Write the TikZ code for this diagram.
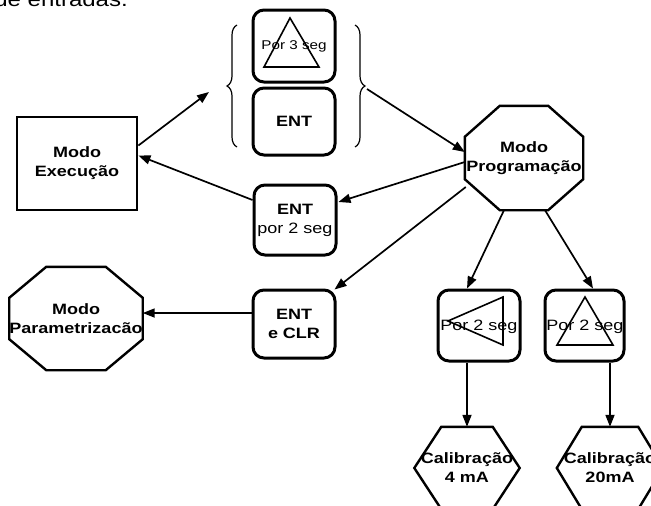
\documentclass[tikz,border=0pt]{standalone}
\usepackage{fontspec}
\usetikzlibrary{arrows.meta,calc,decorations.pathreplacing}
\newfontfamily\lsans[FakeStretch=1.2]{Liberation Sans}
\newcommand\myfB{\lsans\bfseries\fontsize{15}{19}\selectfont}
\newcommand\myfR{\lsans\mdseries\fontsize{15}{19}\selectfont}
\newcommand\myfS{\lsans\mdseries\fontsize{12.7}{15}\selectfont}
\newcommand\myfT{\lsans\mdseries\fontsize{20}{24}\selectfont}
\newcommand\myoct[3]{\draw[shpline] ($(#1.north west)+(#2,0)$) -- ($(#1.north east)+(-#2,0)$) -- ($(#1.north east)+(0,#3)$) -- ($(#1.south east)+(0,-#3)$) -- ($(#1.south east)+(-#2,0)$) -- ($(#1.south west)+(#2,0)$) -- ($(#1.south west)+(0,-#3)$) -- ($(#1.north west)+(0,#3)$) -- cycle;}
\newcommand\myhex[2]{\draw[shpline] (#1.west) -- ($(#1.north west)+(#2,0)$) -- ($(#1.north east)+(-#2,0)$) -- (#1.east) -- ($(#1.south east)+(-#2,0)$) -- ($(#1.south west)+(#2,0)$) -- cycle;}
\tikzset{
  btn/.style={draw, line width=3pt, rounded corners=11pt, inner sep=0pt, align=center, font=\myfB},
  sq/.style={draw, line width=2.8pt, inner sep=0pt, align=center, font=\myfB},
  shp/.style={inner sep=0pt, align=center, font=\myfB},
  shpline/.style={line width=2.4pt, line join=miter},
  arr/.style={line width=1.7pt, -{Triangle[length=12pt,width=9pt]}},
  tri/.style={line width=1.6pt, line join=miter},
  brc/.style={line width=1.2pt, decorate, decoration={brace, amplitude=10pt}},
}
\begin{document}
\begin{tikzpicture}[x=1pt,y=-1pt]
\useasboundingbox (0,0) rectangle (651,506);
\clip (0,0) rectangle (651,506);
\fill[white] (0,0) rectangle (651,506);

% top text (cut off at the top edge, as in the reference)
\node[font=\myfT, anchor=base east, inner sep=0pt] (toptxt) at (128,6) {de entradas.};

% nodes
\node[sq, minimum width=120pt, minimum height=93pt] (E) at (77,163.5) {Modo\\Execução};
\node[btn, font=\myfS, minimum width=82pt, minimum height=72pt] (B1) at (294,46) {Por 3 seg};
\node[btn, minimum width=82pt, minimum height=67pt] (B2) at (294,121.5) {\raisebox{-3pt}{ENT}};
\node[btn, minimum width=82pt, minimum height=70pt] (B3) at (295,220) {ENT\\\myfR por 2 seg};
\node[btn, minimum width=82pt, minimum height=68pt] (B4) at (294,324) {ENT\\e CLR};
\node[btn, minimum width=82pt, minimum height=71pt] (B5) at (479,325.5) {};
\node[btn, minimum width=79pt, minimum height=71pt] (B6) at (584.5,325.5) {};
\node[font=\myfR, inner sep=0pt] (B5t) at (479,327) {Por 2 seg};
\node[font=\myfR, inner sep=0pt] (B6t) at (585,327) {Por 2 seg};

\node[shp, minimum width=118pt, minimum height=104pt] (P) at (524,158) {Modo\\Programação};
\myoct{P}{35}{31}
\node[shp, minimum width=122pt, minimum height=103pt] (Q) at (76,318.5) {Modo\\Parametrizacão};
\myoct{Q}{37}{31}
\node[shp, minimum width=105pt, minimum height=82pt] (H1) at (467,468) {Calibração\\4 mA};
\myhex{H1}{27}
\node[shp, minimum width=106pt, minimum height=82pt] (H2) at (610,468) {Calibração\\20mA};
\myhex{H2}{25}

% triangles in buttons
\draw[tri] ($(B1.center)+(-4,-28)$) -- ($(B1.center)+(-30,21)$) -- ($(B1.center)+(25,21)$) -- cycle;
\draw[tri] ($(B5.center)+(-31,-4.5)$) -- ($(B5.center)+(24,-28.5)$) -- ($(B5.center)+(24,19.5)$) -- cycle;
\draw[tri] ($(B6.center)+(0.5,-28.5)$) -- ($(B6.center)+(-27.5,19.5)$) -- ($(B6.center)+(28.5,19.5)$) -- cycle;

% braces
\draw[brc] (237,147) -- (237,25);
\draw[brc] (355,25) -- (355,147);
\coordinate (lbt) at (209,92);
\coordinate (rb) at (367,89);

% connectors
\draw[arr] ($(E.east)+(0,-18)$) -- (lbt);
\draw[arr] (rb) -- ($(P.west)+(0,-6)$);
\draw[arr] ($(P.west)+(0,4)$) -- ($(B3.east)+(1,-18)$);
\draw[arr] ($(B3.west)+(0,-20)$) -- ($(E.east)+(0,-8)$);
\draw[arr] ($(P.west)+(1,29)$) -- ($(B4.north east)+(-2,1)$);
\draw[arr] ($(B4.west)+(0,-11)$) -- ($(Q.east)+(0,-5.5)$);
\draw[arr] ($(P.south)+(-20,0)$) -- ($(B5.north)+(-12,0)$);
\draw[arr] ($(P.south)+(21,0)$) -- ($(B6.north)+(8.5,0)$);
\draw[arr] ($(B5.south)+(-12,0)$) -- (H1.north);
\draw[arr] ($(B6.south)+(25.5,0)$) -- (H2.north);
\end{tikzpicture}
\end{document}
